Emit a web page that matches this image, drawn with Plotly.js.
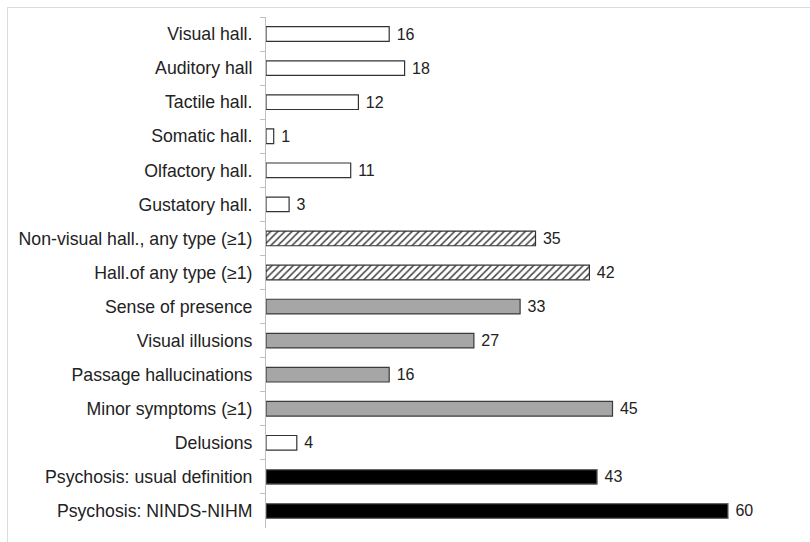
<!DOCTYPE html>
<html>
<head>
<meta charset="utf-8">
<script src="https://cdn.plot.ly/plotly-3.0.1.min.js"></script>
<style>
html,body{margin:0;padding:0;background:#fff;}
#wrap{position:relative;width:810px;height:542px;}
#chart{width:810px;height:542px;}
#frame{position:absolute;left:7px;top:7px;right:0;bottom:0;border-left:1.5px solid #dcdcdc;border-top:1.5px solid #dcdcdc;pointer-events:none;}
</style>
</head>
<body>
<div id="wrap"><div id="chart"></div><div id="frame"></div></div>
<script>
const categories = [
  "Visual hall.", "Auditory hall", "Tactile hall.", "Somatic hall.", "Olfactory hall.",
  "Gustatory hall.", "Non-visual hall., any type (≥1)", "Hall.of any type (≥1)",
  "Sense of presence", "Visual illusions", "Passage hallucinations", "Minor symptoms (≥1)",
  "Delusions", "Psychosis: usual definition", "Psychosis: NINDS-NIHM"
];
const values = [16, 18, 12, 1, 11, 3, 35, 42, 33, 27, 16, 45, 4, 43, 60];
const groups = ["open","open","open","open","open","open","hatch","hatch","gray","gray","gray","gray","open","black","black"];

const styles = {
  open:  {color: "#ffffff", line: "#333333"},
  hatch: {color: "#ffffff", line: "#333333", pattern: {shape: "/", fgcolor: "#444444", bgcolor: "#ffffff", size: 5, solidity: 0.3}},
  gray:  {color: "#a6a6a6", line: "#3a3a3a"},
  black: {color: "#000000", line: "#666666"}
};

const font = "Liberation Sans, Arial, sans-serif";

const traces = ["open", "hatch", "gray", "black"].map(g => {
  const idx = groups.map((v, i) => v === g ? i : -1).filter(i => i >= 0);
  const st = styles[g];
  const marker = {color: st.color, line: {color: st.line, width: 1.2}};
  if (st.pattern) marker.pattern = st.pattern;
  return {
    type: "bar",
    orientation: "h",
    y: idx.map(i => categories[i]),
    x: idx.map(i => values[i]),
    texttemplate: " %{x}",
    textposition: "outside",
    constraintext: "none",
    cliponaxis: false,
    textfont: {family: font, size: 16, color: "#222"},
    marker: marker,
    hoverinfo: "none"
  };
});

const layout = {
  width: 810, height: 542,
  margin: {l: 266, r: 5, t: 17, b: 14},
  paper_bgcolor: "#fff", plot_bgcolor: "#fff",
  showlegend: false,
  barmode: "overlay",
  bargap: 0.57,
  font: {family: font, size: 17.7, color: "#222"},
  xaxis: {range: [0, 70], visible: false, fixedrange: true},
  yaxis: {
    type: "category", categoryorder: "array", categoryarray: categories,
    autorange: "reversed",
    showline: true, linecolor: "#bfbfbf", linewidth: 1,
    ticks: "outside", tickson: "boundaries", ticklen: 5, tickcolor: "#bfbfbf",
    ticklabelstandoff: 9,
    showgrid: false, zeroline: false,
    tickfont: {family: font, size: 17.7, color: "#222"}
  }
};

Plotly.newPlot("chart", traces, layout, {staticPlot: true, displayModeBar: false});
</script>
</body>
</html>
